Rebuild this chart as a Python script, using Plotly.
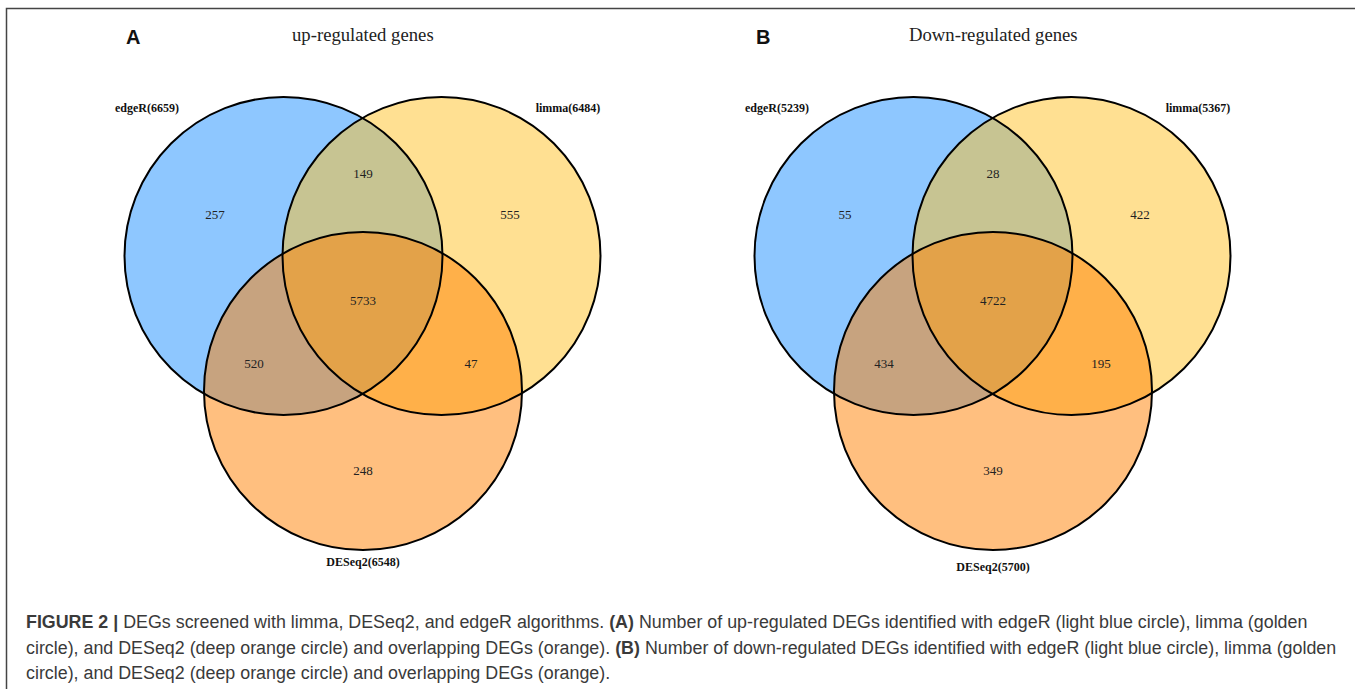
import plotly.graph_objects as go

# ---- data -------------------------------------------------------------
set_names = ["edgeR", "limma", "DESeq2"]

up_set_sizes = [6659, 6484, 6548]
down_set_sizes = [5239, 5367, 5700]

# region order: edgeR only, edgeR&limma, limma only, all three,
#               edgeR&DESeq2, limma&DESeq2, DESeq2 only
region_keys = ["e", "el", "l", "eld", "ed", "ld", "d"]
up_region_counts = [257, 149, 555, 5733, 520, 47, 248]
down_region_counts = [55, 28, 422, 4722, 434, 195, 349]

panel_titles = ["up-regulated genes", "Down-regulated genes"]
panel_letters = ["A", "B"]

caption_lines = [
    "<b>FIGURE 2 |</b> DEGs screened with limma, DESeq2, and edgeR algorithms. <b>(A)</b> Number of up-regulated DEGs identified with edgeR (light blue circle), limma (golden",
    "circle), and DESeq2 (deep orange circle) and overlapping DEGs (orange). <b>(B)</b> Number of down-regulated DEGs identified with edgeR (light blue circle), limma (golden",
    "circle), and DESeq2 (deep orange circle) and overlapping DEGs (orange).",
]

# ---- layout constants (pixel space) -----------------------------------
W, H = 1355, 689
panel_cx = [363, 993]          # horizontal centre of each Venn diagram
bottom_label_y = [563, 568]    # vertical position of the DESeq2 label per panel
R = 159                        # circle radius
# circle centres relative to panel centre
circle_offsets = {"edgeR": (-79.5, 256), "limma": (78.5, 256), "DESeq2": (0, 391)}
circle_fill = {
    "edgeR": "rgba(30,144,255,0.5)",     # dodgerblue
    "limma": "rgba(255,193,37,0.5)",     # goldenrod1
    "DESeq2": "rgba(255,127,0,0.5)",     # darkorange1
}
# label anchors for each region relative to panel centre
region_offsets = {
    "e": (-148, 216), "el": (0, 175), "l": (147, 216), "eld": (0, 302),
    "ed": (-109, 365), "ld": (108, 365), "d": (0, 472),
}
set_label_dx = {"edgeR": -216, "limma": 205, "DESeq2": 0}
set_label_top_y = 109

fig = go.Figure()
shapes = []
annotations = []

for p, (sizes, counts) in enumerate([(up_set_sizes, up_region_counts),
                                     (down_set_sizes, down_region_counts)]):
    cx0 = panel_cx[p]
    # translucent fills first, then outlines on top of all fills
    for name in set_names:
        dx, cy = circle_offsets[name]
        cx = cx0 + dx
        shapes.append(dict(type="circle", xref="x", yref="y", layer="below",
                           x0=cx - R, x1=cx + R, y0=cy - R, y1=cy + R,
                           fillcolor=circle_fill[name], line=dict(width=0)))
    for name in set_names:
        dx, cy = circle_offsets[name]
        cx = cx0 + dx
        shapes.append(dict(type="circle", xref="x", yref="y", layer="below",
                           x0=cx - R, x1=cx + R, y0=cy - R, y1=cy + R,
                           fillcolor="rgba(0,0,0,0)",
                           line=dict(color="black", width=2)))

    # region counts
    fig.add_trace(go.Scatter(
        x=[cx0 + region_offsets[k][0] for k in region_keys],
        y=[region_offsets[k][1] for k in region_keys],
        mode="text", text=[str(c) for c in counts],
        textfont=dict(family="Liberation Serif", size=13, color="#222222"),
        hoverinfo="skip", showlegend=False))

    # set labels
    label_y = [set_label_top_y, set_label_top_y, bottom_label_y[p]]
    fig.add_trace(go.Scatter(
        x=[cx0 + set_label_dx[n] for n in set_names],
        y=label_y,
        mode="text",
        text=[f"<b>{n}({s})</b>" for n, s in zip(set_names, sizes)],
        textfont=dict(family="Liberation Serif", size=12, color="#111111"),
        hoverinfo="skip", showlegend=False))

    # panel title and letter
    annotations.append(dict(x=cx0, y=34, xref="x", yref="y", showarrow=False,
                            text=panel_titles[p],
                            font=dict(family="Liberation Serif", size=18.7, color="#222222")))
    annotations.append(dict(x=cx0 - 230, y=37, xref="x", yref="y", showarrow=False,
                            text=f"<b>{panel_letters[p]}</b>",
                            font=dict(family="Liberation Sans", size=20, color="#111111")))

# caption
for i, line in enumerate(caption_lines):
    annotations.append(dict(x=24, y=622 + 25.5 * i, xref="x", yref="y",
                            xanchor="left", yanchor="middle", showarrow=False,
                            text=line,
                            font=dict(family="Liberation Sans", size=17.85, color="#3a3a3a")))

# figure frame (top and left edges visible)
shapes.append(dict(type="rect", xref="x", yref="y", layer="above",
                   x0=6.5, x1=W + 20, y0=8.5, y1=H + 20,
                   line=dict(color="#444444", width=1.5), fillcolor="rgba(0,0,0,0)"))

fig.update_layout(
    width=W, height=H,
    margin=dict(l=0, r=0, t=0, b=0),
    paper_bgcolor="white", plot_bgcolor="white",
    shapes=shapes, annotations=annotations,
    xaxis=dict(range=[0, W], visible=False, fixedrange=True),
    yaxis=dict(range=[H, 0], visible=False, fixedrange=True),
    showlegend=False,
)

fig.write_html("out.html", config={"displayModeBar": False})
